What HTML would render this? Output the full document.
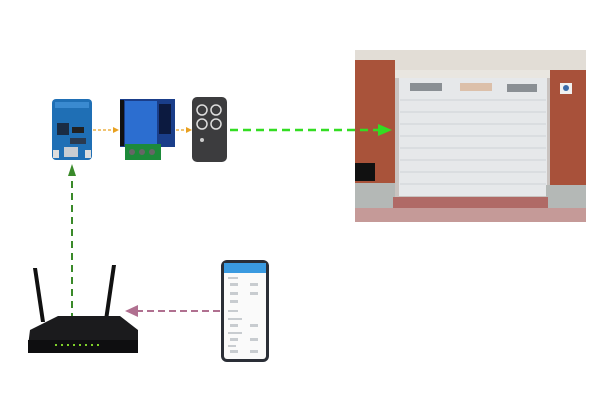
<!DOCTYPE html>
<html><head><meta charset="utf-8"><style>html,body{margin:0;padding:0;background:#fff}svg{display:block}</style></head>
<body>
<svg width="600" height="400" viewBox="0 0 600 400" xmlns="http://www.w3.org/2000/svg">
<rect width="600" height="400" fill="#fff"/>
<!-- ESP board -->
<rect x="52" y="99" width="40" height="61" rx="4" fill="#1f6fb5"/>
<rect x="55" y="102" width="34" height="6" fill="#3a8ad0"/>
<rect x="57" y="123" width="12" height="12" fill="#1a2c44"/>
<rect x="72" y="127" width="12" height="6" fill="#222"/>
<rect x="70" y="138" width="16" height="6" fill="#2a3a50"/>
<rect x="64" y="147" width="14" height="10" fill="#c8ccd2"/>
<rect x="53" y="150" width="6" height="8" fill="#ddd"/>
<rect x="85" y="150" width="6" height="8" fill="#ddd"/>
<!-- Relay -->
<rect x="120" y="99" width="55" height="48" fill="#1a3e8a"/>
<rect x="125" y="101" width="32" height="44" fill="#2c6ed0"/>
<rect x="120" y="100" width="4" height="46" fill="#111"/>
<rect x="159" y="104" width="12" height="30" fill="#0c1a40"/>
<rect x="125" y="144" width="36" height="16" fill="#1d8a3a"/>
<circle cx="132" cy="152" r="3" fill="#666"/><circle cx="142" cy="152" r="3" fill="#666"/><circle cx="152" cy="152" r="3" fill="#666"/>
<!-- Remote -->
<rect x="192" y="97" width="35" height="65" rx="5" fill="#3c3c3e"/>
<circle cx="202" cy="110" r="5" fill="none" stroke="#ddd" stroke-width="1.5"/>
<circle cx="216" cy="110" r="5" fill="none" stroke="#ddd" stroke-width="1.5"/>
<circle cx="202" cy="124" r="5" fill="none" stroke="#ddd" stroke-width="1.5"/>
<circle cx="216" cy="124" r="5" fill="none" stroke="#ddd" stroke-width="1.5"/>
<circle cx="202" cy="140" r="2" fill="#ccc"/>
<!-- orange arrows -->
<g stroke="#e8a020" stroke-width="1.3" stroke-dasharray="3,2" fill="none">
<line x1="93" y1="130" x2="114" y2="130"/><line x1="176" y1="130" x2="187" y2="130"/></g>
<polygon points="113,127 119,130 113,133" fill="#e8a020"/>
<polygon points="186,127 192,130 186,133" fill="#e8a020"/>
<!-- Garage -->
<rect x="355" y="50" width="231" height="172" fill="#c9c3c0"/>
<rect x="355" y="50" width="231" height="20" fill="#e2ddd6"/>
<rect x="355" y="60" width="40" height="125" fill="#a9533a"/>
<rect x="550" y="70" width="36" height="115" fill="#a8513a"/>
<rect x="395" y="70" width="155" height="8" fill="#e9e6e0"/>
<rect x="399" y="78" width="148" height="118" fill="#e6e8ea"/>
<g stroke="#cfd2d6" stroke-width="1">
<line x1="400" y1="100" x2="546" y2="100"/><line x1="400" y1="112" x2="546" y2="112"/><line x1="400" y1="124" x2="546" y2="124"/><line x1="400" y1="136" x2="546" y2="136"/><line x1="400" y1="148" x2="546" y2="148"/><line x1="400" y1="160" x2="546" y2="160"/><line x1="400" y1="172" x2="546" y2="172"/><line x1="400" y1="184" x2="546" y2="184"/></g>
<rect x="410" y="83" width="32" height="8" fill="#8a8f94"/>
<rect x="460" y="83" width="32" height="8" fill="#dcc0aa"/>
<rect x="507" y="84" width="30" height="8" fill="#8a8f94"/>
<rect x="560" y="83" width="12" height="11" fill="#f0f0f0"/>
<circle cx="566" cy="88" r="3" fill="#3a6aa8"/>
<rect x="355" y="163" width="20" height="18" fill="#111"/>
<rect x="355" y="183" width="40" height="26" fill="#b4b8b6"/>
<rect x="546" y="185" width="40" height="26" fill="#b4b8b6"/>
<rect x="393" y="197" width="155" height="12" fill="#b06a66"/>
<rect x="355" y="208" width="231" height="14" fill="#c59a98"/>
<!-- green horizontal -->
<line x1="230" y1="130" x2="380" y2="130" stroke="#33dd22" stroke-width="2.5" stroke-dasharray="8,5"/>
<polygon points="378,124 392,130 378,136" fill="#33dd22"/>
<!-- green vertical -->
<line x1="72" y1="320" x2="72" y2="174" stroke="#3a8a2a" stroke-width="2" stroke-dasharray="7,5"/>
<polygon points="68,176 72,164 76,176" fill="#3a8a2a"/>
<!-- Router -->
<polygon points="33,268 37,268 45,322 41,322" fill="#111"/>
<polygon points="112,265 116,265 108,320 104,320" fill="#111"/>
<polygon points="30,330 58,316 120,316 138,330 138,346 28,346" fill="#1b1b1d"/>
<rect x="28" y="340" width="110" height="13" fill="#0e0e10"/>
<g fill="#7fd02a"><rect x="55" y="344" width="2" height="2"/><rect x="61" y="344" width="2" height="2"/><rect x="67" y="344" width="2" height="2"/><rect x="73" y="344" width="2" height="2"/><rect x="79" y="344" width="2" height="2"/><rect x="85" y="344" width="2" height="2"/><rect x="91" y="344" width="2" height="2"/><rect x="97" y="344" width="2" height="2"/></g>
<!-- pink arrow -->
<line x1="220" y1="311" x2="138" y2="311" stroke="#b07090" stroke-width="2" stroke-dasharray="7,4"/>
<polygon points="138,305 125,311 138,317" fill="#b07090"/>
<!-- Phone -->
<rect x="221" y="260" width="48" height="102" rx="6" fill="#2a2e36"/>
<rect x="224" y="263" width="42" height="96" rx="3" fill="#fafafa"/>
<rect x="224" y="263" width="42" height="10" fill="#3a9ae0"/>
<g fill="#c8ccd0"><rect x="228" y="277" width="10" height="2"/><rect x="230" y="283" width="8" height="3"/><rect x="250" y="283" width="8" height="3"/><rect x="230" y="292" width="8" height="3"/><rect x="250" y="292" width="8" height="3"/><rect x="230" y="300" width="8" height="3"/><rect x="228" y="310" width="10" height="2"/><rect x="228" y="318" width="14" height="2"/><rect x="230" y="324" width="8" height="3"/><rect x="250" y="324" width="8" height="3"/><rect x="228" y="332" width="14" height="2"/><rect x="230" y="338" width="8" height="3"/><rect x="250" y="338" width="8" height="3"/><rect x="228" y="345" width="8" height="2"/><rect x="230" y="350" width="8" height="3"/><rect x="250" y="350" width="8" height="3"/></g>
</svg>
</body></html>
